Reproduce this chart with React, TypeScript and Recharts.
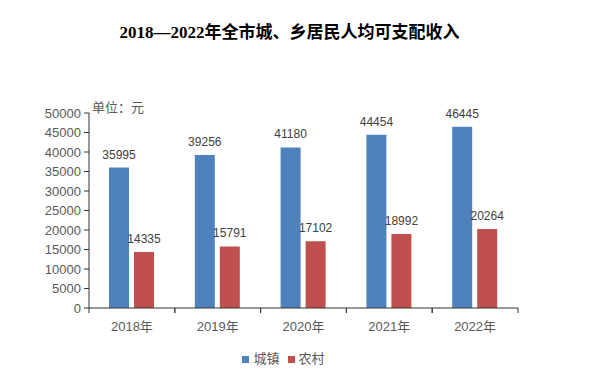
import React from "react";
import { BarChart, Bar, XAxis, YAxis, LabelList } from "recharts";

const years = ["2018年", "2019年", "2020年", "2021年", "2022年"];
const urban = [35995, 39256, 41180, 44454, 46445];
const rural = [14335, 15791, 17102, 18992, 20264];
const yTicks = [0, 5000, 10000, 15000, 20000, 25000, 30000, 35000, 40000, 45000, 50000];

const data = years.map((y, i) => ({ year: y, 城镇: urban[i], 农村: rural[i] }));

const W = 597;
const H = 380;
const M = { top: 113, right: 79, left: 0, bottom: 42 };
const Y_W = 89;
const bandW = (W - M.left - M.right - Y_W) / years.length;

const textFont = '"Liberation Sans", "Noto Sans CJK SC", sans-serif';

const XTick = ({ x, y, payload }: any) => {
  const axisY = y - 14;
  return (
    <g>
      <line x1={x - bandW / 2} x2={x - bandW / 2} y1={axisY} y2={axisY + 5} stroke="#333" />
      <line x1={x + bandW / 2} x2={x + bandW / 2} y1={axisY} y2={axisY + 5} stroke="#333" />
      <text x={x} y={y} dy="0.71em" textAnchor="middle" fill="#595959" fontSize={13} fontFamily={textFont}>
        {payload.value}
      </text>
    </g>
  );
};

export default function App() {
  return (
    <div style={{ position: "absolute", left: 0, top: 0, width: W, height: H, background: "#fff" }}>
      <div
        style={{
          position: "absolute",
          top: 22,
          left: 0,
          width: W - 18,
          textAlign: "center",
          fontSize: 17,
          fontWeight: "bold",
          color: "#000",
          fontFamily: '"Liberation Serif", "Noto Sans CJK SC", serif',
          lineHeight: "22px",
        }}
      >
        2018—2022年全市城、乡居民人均可支配收入
      </div>
      <div
        style={{
          position: "absolute",
          left: 92,
          top: 100,
          fontSize: 13,
          color: "#595959",
          fontFamily: textFont,
          lineHeight: "16px",
        }}
      >
        单位：元
      </div>
      <BarChart width={W} height={H} data={data} margin={M} barSize={20} barGap={5}>
        <XAxis
          dataKey="year"
          axisLine={{ stroke: "#333" }}
          tickLine={false}
          tickSize={0}
          tickMargin={14}
          height={30}
          tick={<XTick />}
          interval={0}
        />
        <YAxis
          width={Y_W}
          domain={[0, 50000]}
          ticks={yTicks}
          interval={0}
          axisLine={{ stroke: "#333" }}
          tickLine={{ stroke: "#333" }}
          tickSize={5}
          tickMargin={3}
          tick={{ fill: "#595959", fontSize: 13, fontFamily: textFont }}
        />
        <Bar dataKey="城镇" fill="#4F81BD" isAnimationActive={false}>
          <LabelList dataKey="城镇" position="top" offset={9} fill="#404040" fontSize={12} fontFamily={textFont} />
        </Bar>
        <Bar dataKey="农村" fill="#C0504D" isAnimationActive={false}>
          <LabelList dataKey="农村" position="top" offset={9} fill="#404040" fontSize={12} fontFamily={textFont} />
        </Bar>
      </BarChart>
      <div
        style={{
          position: "absolute",
          top: 351,
          left: 0,
          width: W - 30,
          display: "flex",
          justifyContent: "center",
          alignItems: "center",
          gap: 4,
          fontSize: 13,
          color: "#595959",
          fontFamily: textFont,
          lineHeight: "16px",
        }}
      >
        <span style={{ width: 7, height: 7, background: "#4F81BD", display: "inline-block" }} />
        <span style={{ marginRight: 4 }}>城镇</span>
        <span style={{ width: 7, height: 7, background: "#C0504D", display: "inline-block" }} />
        <span>农村</span>
      </div>
    </div>
  );
}
